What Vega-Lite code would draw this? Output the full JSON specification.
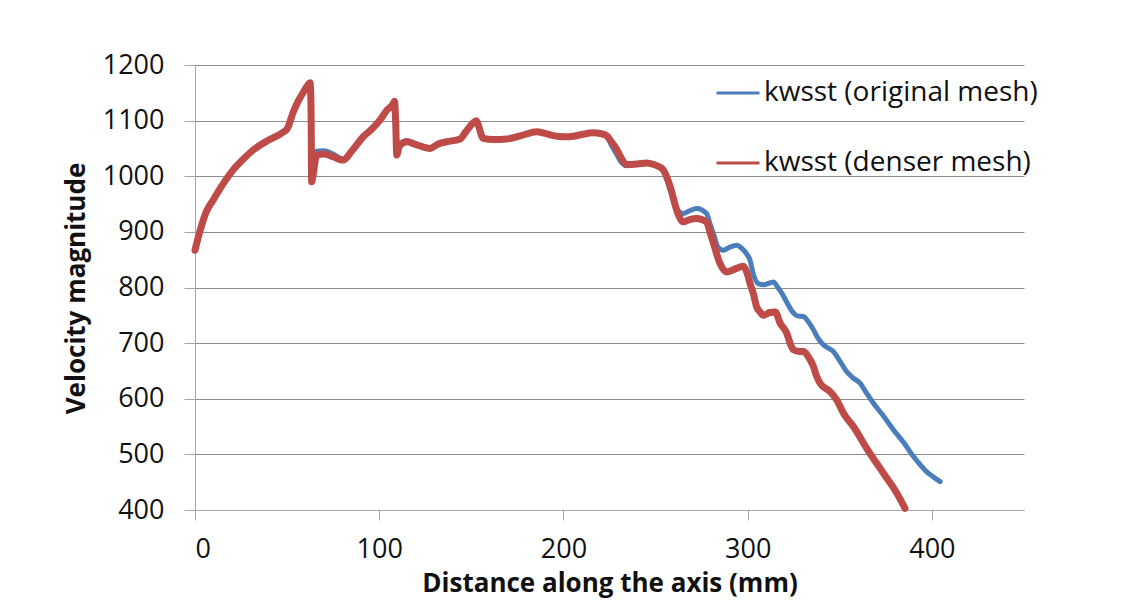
{
  "$schema": "https://vega.github.io/schema/vega-lite/v6.json",
  "width": 829,
  "height": 445,
  "autosize": {"type": "none"},
  "padding": {"left": 195, "top": 65, "right": 106, "bottom": 90},
  "background": "white",
  "config": {
    "font": "Open Sans",
    "view": {"stroke": null},
    "axis": {"labelFont": "Open Sans", "titleFont": "Open Sans", "labelColor": "#111", "titleColor": "#111"}
  },
  "datasets": {
    "orig": [
      {"series":"kwsst (original mesh)","x":0,"v":867},{"series":"kwsst (original mesh)","x":3,"v":905},{"series":"kwsst (original mesh)","x":6,"v":935},{"series":"kwsst (original mesh)","x":9.8,"v":957},{"series":"kwsst (original mesh)","x":15,"v":985},{"series":"kwsst (original mesh)","x":20.6,"v":1011},{"series":"kwsst (original mesh)","x":26,"v":1030},{"series":"kwsst (original mesh)","x":31.5,"v":1047},{"series":"kwsst (original mesh)","x":40,"v":1065},{"series":"kwsst (original mesh)","x":47.8,"v":1079},{"series":"kwsst (original mesh)","x":50,"v":1085},{"series":"kwsst (original mesh)","x":53.3,"v":1115},{"series":"kwsst (original mesh)","x":56,"v":1135},{"series":"kwsst (original mesh)","x":58.8,"v":1151},{"series":"kwsst (original mesh)","x":61,"v":1163},{"series":"kwsst (original mesh)","x":62.5,"v":1168},{"series":"kwsst (original mesh)","x":63,"v":1120},
      {"series":"kwsst (original mesh)","x":63.3,"v":995},{"series":"kwsst (original mesh)","x":64,"v":1005},{"series":"kwsst (original mesh)","x":66,"v":1045},{"series":"kwsst (original mesh)","x":70,"v":1046},{"series":"kwsst (original mesh)","x":75,"v":1040},{"series":"kwsst (original mesh)","x":80.4,"v":1031},
      {"series":"kwsst (original mesh)","x":85,"v":1045},{"series":"kwsst (original mesh)","x":91.3,"v":1071},{"series":"kwsst (original mesh)","x":96,"v":1085},{"series":"kwsst (original mesh)","x":100.4,"v":1101},{"series":"kwsst (original mesh)","x":104,"v":1118},{"series":"kwsst (original mesh)","x":107.7,"v":1131},{"series":"kwsst (original mesh)","x":108.3,"v":1135},{"series":"kwsst (original mesh)","x":109,"v":1090},{"series":"kwsst (original mesh)","x":109.5,"v":1040},{"series":"kwsst (original mesh)","x":111,"v":1057},{"series":"kwsst (original mesh)","x":115,"v":1064},{"series":"kwsst (original mesh)","x":120,"v":1058},{"series":"kwsst (original mesh)","x":127.6,"v":1050},{"series":"kwsst (original mesh)","x":132,"v":1058},{"series":"kwsst (original mesh)","x":136.6,"v":1062},{"series":"kwsst (original mesh)","x":143.9,"v":1067},{"series":"kwsst (original mesh)","x":147,"v":1080},{"series":"kwsst (original mesh)","x":151,"v":1096},{"series":"kwsst (original mesh)","x":152.5,"v":1100},{"series":"kwsst (original mesh)","x":156.5,"v":1068},{"series":"kwsst (original mesh)","x":162,"v":1066},{"series":"kwsst (original mesh)","x":169.2,"v":1067},{"series":"kwsst (original mesh)","x":177,"v":1073},{"series":"kwsst (original mesh)","x":185.5,"v":1080},{"series":"kwsst (original mesh)","x":190,"v":1077},{"series":"kwsst (original mesh)","x":194.5,"v":1073},{"series":"kwsst (original mesh)","x":200,"v":1071},{"series":"kwsst (original mesh)","x":205.4,"v":1072},{"series":"kwsst (original mesh)","x":210,"v":1075},{"series":"kwsst (original mesh)","x":216.1,"v":1078},{"series":"kwsst (original mesh)","x":220,"v":1077},{"series":"kwsst (original mesh)","x":223.4,"v":1073},
      {"series":"kwsst (original mesh)","x":226,"v":1056},{"series":"kwsst (original mesh)","x":228.8,"v":1040},{"series":"kwsst (original mesh)","x":231,"v":1027},{"series":"kwsst (original mesh)","x":234.2,"v":1019},
      {"series":"kwsst (original mesh)","x":240,"v":1022},{"series":"kwsst (original mesh)","x":245,"v":1024},{"series":"kwsst (original mesh)","x":250,"v":1020},{"series":"kwsst (original mesh)","x":254,"v":1012},
      {"series":"kwsst (original mesh)","x":257.9,"v":975},{"series":"kwsst (original mesh)","x":261.5,"v":942},{"series":"kwsst (original mesh)","x":265,"v":933},{"series":"kwsst (original mesh)","x":268.5,"v":938},{"series":"kwsst (original mesh)","x":272.3,"v":942},{"series":"kwsst (original mesh)","x":277.7,"v":933},{"series":"kwsst (original mesh)","x":279.5,"v":915},{"series":"kwsst (original mesh)","x":281.4,"v":897},{"series":"kwsst (original mesh)","x":284,"v":872},{"series":"kwsst (original mesh)","x":286.8,"v":867},{"series":"kwsst (original mesh)","x":290,"v":872},{"series":"kwsst (original mesh)","x":294,"v":876},{"series":"kwsst (original mesh)","x":297,"v":870},{"series":"kwsst (original mesh)","x":299.5,"v":860},{"series":"kwsst (original mesh)","x":301.3,"v":849},{"series":"kwsst (original mesh)","x":303,"v":825},{"series":"kwsst (original mesh)","x":305.8,"v":807},{"series":"kwsst (original mesh)","x":308.6,"v":805},{"series":"kwsst (original mesh)","x":314,"v":810},{"series":"kwsst (original mesh)","x":316,"v":802},{"series":"kwsst (original mesh)","x":318.5,"v":790},{"series":"kwsst (original mesh)","x":321,"v":775},{"series":"kwsst (original mesh)","x":324.9,"v":754},{"series":"kwsst (original mesh)","x":327,"v":749},{"series":"kwsst (original mesh)","x":330.3,"v":748},{"series":"kwsst (original mesh)","x":333,"v":738},{"series":"kwsst (original mesh)","x":335.7,"v":724},{"series":"kwsst (original mesh)","x":338,"v":710},{"series":"kwsst (original mesh)","x":341.1,"v":697},{"series":"kwsst (original mesh)","x":346.5,"v":685},{"series":"kwsst (original mesh)","x":350,"v":668},{"series":"kwsst (original mesh)","x":353.7,"v":649},{"series":"kwsst (original mesh)","x":357,"v":638},{"series":"kwsst (original mesh)","x":361,"v":628},{"series":"kwsst (original mesh)","x":364,"v":613},{"series":"kwsst (original mesh)","x":368.3,"v":592},{"series":"kwsst (original mesh)","x":373,"v":572},{"series":"kwsst (original mesh)","x":379.2,"v":544},{"series":"kwsst (original mesh)","x":385,"v":520},{"series":"kwsst (original mesh)","x":390,"v":496},{"series":"kwsst (original mesh)","x":394,"v":480},{"series":"kwsst (original mesh)","x":397.1,"v":469},{"series":"kwsst (original mesh)","x":401,"v":459},{"series":"kwsst (original mesh)","x":404.5,"v":451}
    ],
    "dense": [
      {"series":"kwsst (denser mesh)","x":0,"v":867},{"series":"kwsst (denser mesh)","x":3,"v":905},{"series":"kwsst (denser mesh)","x":6,"v":935},{"series":"kwsst (denser mesh)","x":9.8,"v":957},{"series":"kwsst (denser mesh)","x":15,"v":985},{"series":"kwsst (denser mesh)","x":20.6,"v":1011},{"series":"kwsst (denser mesh)","x":26,"v":1030},{"series":"kwsst (denser mesh)","x":31.5,"v":1047},{"series":"kwsst (denser mesh)","x":40,"v":1065},{"series":"kwsst (denser mesh)","x":47.8,"v":1079},{"series":"kwsst (denser mesh)","x":50,"v":1085},{"series":"kwsst (denser mesh)","x":53.3,"v":1115},{"series":"kwsst (denser mesh)","x":56,"v":1135},{"series":"kwsst (denser mesh)","x":58.8,"v":1151},{"series":"kwsst (denser mesh)","x":61,"v":1163},{"series":"kwsst (denser mesh)","x":62.5,"v":1168},{"series":"kwsst (denser mesh)","x":63,"v":1120},
      {"series":"kwsst (denser mesh)","x":63.3,"v":990},{"series":"kwsst (denser mesh)","x":64,"v":1000},{"series":"kwsst (denser mesh)","x":66,"v":1038},{"series":"kwsst (denser mesh)","x":70,"v":1040},{"series":"kwsst (denser mesh)","x":75,"v":1035},{"series":"kwsst (denser mesh)","x":80.4,"v":1029},
      {"series":"kwsst (denser mesh)","x":85,"v":1045},{"series":"kwsst (denser mesh)","x":91.3,"v":1071},{"series":"kwsst (denser mesh)","x":96,"v":1085},{"series":"kwsst (denser mesh)","x":100.4,"v":1101},{"series":"kwsst (denser mesh)","x":104,"v":1118},{"series":"kwsst (denser mesh)","x":107.7,"v":1131},{"series":"kwsst (denser mesh)","x":108.3,"v":1135},{"series":"kwsst (denser mesh)","x":109,"v":1090},{"series":"kwsst (denser mesh)","x":109.5,"v":1038},{"series":"kwsst (denser mesh)","x":111,"v":1055},{"series":"kwsst (denser mesh)","x":115,"v":1062},{"series":"kwsst (denser mesh)","x":120,"v":1057},{"series":"kwsst (denser mesh)","x":127.6,"v":1050},{"series":"kwsst (denser mesh)","x":132,"v":1058},{"series":"kwsst (denser mesh)","x":136.6,"v":1062},{"series":"kwsst (denser mesh)","x":143.9,"v":1067},{"series":"kwsst (denser mesh)","x":147,"v":1080},{"series":"kwsst (denser mesh)","x":151,"v":1096},{"series":"kwsst (denser mesh)","x":152.5,"v":1100},{"series":"kwsst (denser mesh)","x":156.5,"v":1068},{"series":"kwsst (denser mesh)","x":162,"v":1066},{"series":"kwsst (denser mesh)","x":169.2,"v":1067},{"series":"kwsst (denser mesh)","x":177,"v":1073},{"series":"kwsst (denser mesh)","x":185.5,"v":1080},{"series":"kwsst (denser mesh)","x":190,"v":1077},{"series":"kwsst (denser mesh)","x":194.5,"v":1073},{"series":"kwsst (denser mesh)","x":200,"v":1071},{"series":"kwsst (denser mesh)","x":205.4,"v":1072},{"series":"kwsst (denser mesh)","x":210,"v":1075},{"series":"kwsst (denser mesh)","x":216.1,"v":1078},{"series":"kwsst (denser mesh)","x":220,"v":1077},{"series":"kwsst (denser mesh)","x":223.4,"v":1073},
      {"series":"kwsst (denser mesh)","x":226,"v":1062},{"series":"kwsst (denser mesh)","x":228.8,"v":1049},{"series":"kwsst (denser mesh)","x":231,"v":1035},{"series":"kwsst (denser mesh)","x":234.2,"v":1021},
      {"series":"kwsst (denser mesh)","x":240,"v":1022},{"series":"kwsst (denser mesh)","x":245,"v":1024},{"series":"kwsst (denser mesh)","x":250,"v":1020},{"series":"kwsst (denser mesh)","x":254,"v":1012},
      {"series":"kwsst (denser mesh)","x":257.9,"v":982},{"series":"kwsst (denser mesh)","x":261.5,"v":939},{"series":"kwsst (denser mesh)","x":265,"v":918},{"series":"kwsst (denser mesh)","x":268.5,"v":922},{"series":"kwsst (denser mesh)","x":272.3,"v":924},{"series":"kwsst (denser mesh)","x":277.7,"v":918},{"series":"kwsst (denser mesh)","x":279.5,"v":900},{"series":"kwsst (denser mesh)","x":281.4,"v":880},{"series":"kwsst (denser mesh)","x":285,"v":843},{"series":"kwsst (denser mesh)","x":288.6,"v":828},{"series":"kwsst (denser mesh)","x":293,"v":833},{"series":"kwsst (denser mesh)","x":297.6,"v":838},{"series":"kwsst (denser mesh)","x":299.5,"v":828},{"series":"kwsst (denser mesh)","x":301.3,"v":807},{"series":"kwsst (denser mesh)","x":303,"v":790},{"series":"kwsst (denser mesh)","x":304.9,"v":765},{"series":"kwsst (denser mesh)","x":306.7,"v":756},{"series":"kwsst (denser mesh)","x":308.6,"v":750},{"series":"kwsst (denser mesh)","x":312,"v":755},{"series":"kwsst (denser mesh)","x":315,"v":756},{"series":"kwsst (denser mesh)","x":317.6,"v":736},{"series":"kwsst (denser mesh)","x":321.2,"v":718},{"series":"kwsst (denser mesh)","x":323,"v":700},{"series":"kwsst (denser mesh)","x":324.9,"v":688},{"series":"kwsst (denser mesh)","x":328,"v":685},{"series":"kwsst (denser mesh)","x":330.3,"v":685},{"series":"kwsst (denser mesh)","x":333,"v":675},{"series":"kwsst (denser mesh)","x":335.7,"v":658},{"series":"kwsst (denser mesh)","x":337.5,"v":640},{"series":"kwsst (denser mesh)","x":339.3,"v":628},{"series":"kwsst (denser mesh)","x":344.7,"v":613},{"series":"kwsst (denser mesh)","x":348.3,"v":598},{"series":"kwsst (denser mesh)","x":352,"v":574},{"series":"kwsst (denser mesh)","x":357.4,"v":550},{"series":"kwsst (denser mesh)","x":364.6,"v":511},{"series":"kwsst (denser mesh)","x":373.7,"v":466},{"series":"kwsst (denser mesh)","x":381,"v":430},{"series":"kwsst (denser mesh)","x":385.4,"v":403}
    ]
  },
  "encoding": {
    "x": {
      "field": "x", "type": "quantitative",
      "scale": {"domain": [0, 450], "nice": false},
      "axis": {
        "values": [0, 100, 200, 300, 400], "grid": false, "format": "d",
        "domainColor": "#a6a6a6", "tickColor": "#a6a6a6", "tickSize": 10,
        "labelFontSize": 27, "labelPadding": 16,
        "title": "Distance along the axis (mm)", "titleFontSize": 26, "titleFontWeight": "bold",
        "titleBaseline": "alphabetic", "titleY": 81
      }
    },
    "y": {
      "field": "v", "type": "quantitative",
      "scale": {"domain": [400, 1200], "nice": false, "zero": false},
      "axis": {
        "values": [400, 500, 600, 700, 800, 900, 1000, 1100, 1200], "format": "d",
        "grid": true, "gridColor": "#8c8c8c", "gridWidth": 1,
        "domainColor": "#a6a6a6", "tickColor": "#a6a6a6", "tickSize": 11,
        "labelFontSize": 27, "labelPadding": 20,
        "title": "Velocity magnitude", "titleFontSize": 26, "titleFontWeight": "bold",
        "titleBaseline": "alphabetic", "titleX": -111, "titleY": 223
      }
    },
    "color": {
      "field": "series", "type": "nominal",
      "scale": {"domain": ["kwsst (original mesh)", "kwsst (denser mesh)"], "range": ["#4a7ebb", "#be4b48"]},
      "legend": {
        "title": null, "orient": "none", "legendX": 520, "legendY": 5,
        "symbolType": "stroke", "symbolSize": 1849, "symbolStrokeWidth": 3,
        "labelFontSize": 28, "labelFont": "Open Sans", "labelColor": "#111", "labelOffset": 3,
        "labelLimit": 0, "rowPadding": 33, "padding": 0
      }
    }
  },
  "layer": [
    {"data": {"name": "orig"}, "mark": {"type": "line", "strokeWidth": 5, "strokeJoin": "round", "strokeCap": "round", "interpolate": "monotone"}},
    {"data": {"name": "dense"}, "mark": {"type": "line", "strokeWidth": 7, "strokeJoin": "round", "strokeCap": "round", "interpolate": "monotone"}}
  ]
}
